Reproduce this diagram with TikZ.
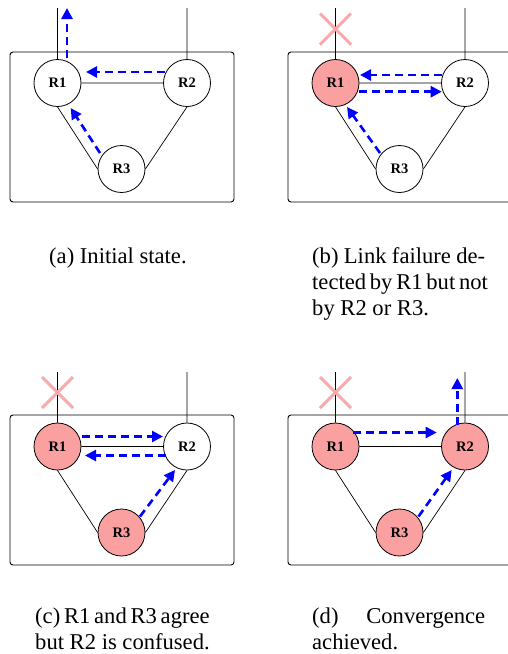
\documentclass[tikz,border=0pt]{standalone}
\usepackage{fontspec}
\setmainfont{Liberation Serif}
\usetikzlibrary{arrows.meta,calc,shapes.misc}
\definecolor{failred}{RGB}{250,160,160}
\definecolor{xred}{RGB}{250,170,170}
\tikzset{
  rtr/.style={circle, draw, line width=0.8pt, fill=white, minimum size=47pt, inner sep=0pt,
              font=\bfseries\fontsize{14.5}{16}\selectfont},
  failed/.style={rtr, fill=failred},
  frame/.style={draw, line width=0.9pt, rounded corners=3pt},
  wire/.style={line width=0.7pt},
  flow/.style={blue, line width=2.6pt, dash pattern=on 8pt off 5pt,
               -{Triangle[length=11pt,width=11pt]}},
  xmark/.style={cross out, draw=xred, line width=3pt, minimum size=28pt, inner sep=0pt},
  captext/.style={anchor=base west, inner sep=0pt, font=\fontsize{22.6}{26}\selectfont}
}
\begin{document}
\begin{tikzpicture}[x=1pt,y=-1pt]
\path[fill=white] (0,0) rectangle (508,654);
\useasboundingbox (0,0) rectangle (508,654);

% ---------- (a)
\draw[frame] (10,52) rectangle (234,202);
\node[rtr] (a1) at (57.5,83) {R1};
\node[rtr] (a2) at (187,83) {R2};
\node[rtr] (a3) at (121.5,169) {R3};
\coordinate (a1t) at (57.5,8);
\coordinate (a2t) at (187,8);
\draw[wire] (a1.east) -- (a2.west) (a1.south) -- (a3.west) (a2.south) -- (a3.east)
            (a1.north) -- (a1t) (a2.north) -- (a2t);
\draw[flow] ($(a1)+(9.5,-25)$) -- ($(a1)+(9.5,-75)$);
\draw[flow] ($(a2)+(-22,-11)$) -- ($(a1)+(28.5,-11)$);
\draw[flow] ($(a3)+(-21.5,-16)$) -- ($(a1)+(13.2,25)$);
\node[captext] (capa) at (49,263) {(a) Initial state.};

% ---------- (b)
\draw[frame] (288,52) rectangle (512,202);
\node[failed] (b1) at (335.5,83) {R1};
\node[rtr] (b2) at (465,83) {R2};
\node[rtr] (b3) at (399.5,169) {R3};
\coordinate (b1t) at (335.5,8);
\coordinate (b2t) at (465,8);
\draw[wire] (b1.east) -- (b2.west) (b1.south) -- (b3.west) (b2.south) -- (b3.east)
            (b1.north) -- (b1t) (b2.north) -- (b2t);
\node[xmark] (bx) at ($(b1)+(0,-54)$) {};
\draw[flow] ($(b2)+(-23.3,-8)$) -- ($(b1)+(24.5,-8)$);
\draw[flow] ($(b1)+(23.5,8.7)$) -- ($(b2)+(-23.3,8.7)$);
\draw[flow] ($(b3)+(-19.5,-16)$) -- ($(b1)+(11.5,24)$);
\node[captext] (capb1) at (312,263) {\makebox[173pt][s]{(b) Link failure de-}};
\node[captext] (capb2) at (312,289) {\makebox[173pt][s]{tected by R1 but not}};
\node[captext] (capb3) at (312,315) {by R2 or R3.};

% ---------- (c)
\draw[frame] (10,415) rectangle (234,565);
\node[failed] (c1) at (57.5,446.5) {R1};
\node[rtr] (c2) at (187,446.5) {R2};
\node[failed] (c3) at (121.5,532.5) {R3};
\coordinate (c1t) at (57.5,372);
\coordinate (c2t) at (187,372);
\draw[wire] (c1.east) -- (c2.west) (c1.south) -- (c3.west) (c2.south) -- (c3.east)
            (c1.north) -- (c1t) (c2.north) -- (c2t);
\node[xmark] (cx) at ($(c1)+(0,-54)$) {};
\draw[flow] ($(c1)+(24.5,-10)$) -- ($(c2)+(-24,-10)$);
\draw[flow] ($(c2)+(-21.3,9)$) -- ($(c1)+(27.5,9)$);
\draw[flow] ($(c3)+(18.5,-16)$) -- ($(c2)+(-12,23.5)$);
\node[captext] (capc1) at (35,623) {\makebox[173pt][s]{(c) R1 and R3 agree}};
\node[captext] (capc2) at (35,649) {but R2 is confused.};

% ---------- (d)
\draw[frame] (288,415) rectangle (512,565);
\node[failed] (d1) at (335.5,446.5) {R1};
\node[failed] (d2) at (465,446.5) {R2};
\node[failed] (d3) at (399.5,532.5) {R3};
\coordinate (d1t) at (335.5,372);
\coordinate (d2t) at (465,372);
\draw[wire] (d1.east) -- (d2.west) (d1.south) -- (d3.west) (d2.south) -- (d3.east)
            (d1.north) -- (d1t) (d2.north) -- (d2t);
\node[xmark] (dx) at ($(d1)+(0,-54)$) {};
\draw[flow] ($(d1)+(17.5,-14)$) -- ($(d2)+(-28.3,-14)$);
\draw[flow] ($(d2)+(-7.7,-21.5)$) -- ($(d2)+(-7.7,-68.5)$);
\draw[flow] ($(d3)+(19,-16)$) -- ($(d2)+(-13.3,23.5)$);
\node[captext] (capd1) at (312,623) {\makebox[173pt][s]{(d) Convergence}};
\node[captext] (capd2) at (312,649) {achieved.};
\end{tikzpicture}
\end{document}
